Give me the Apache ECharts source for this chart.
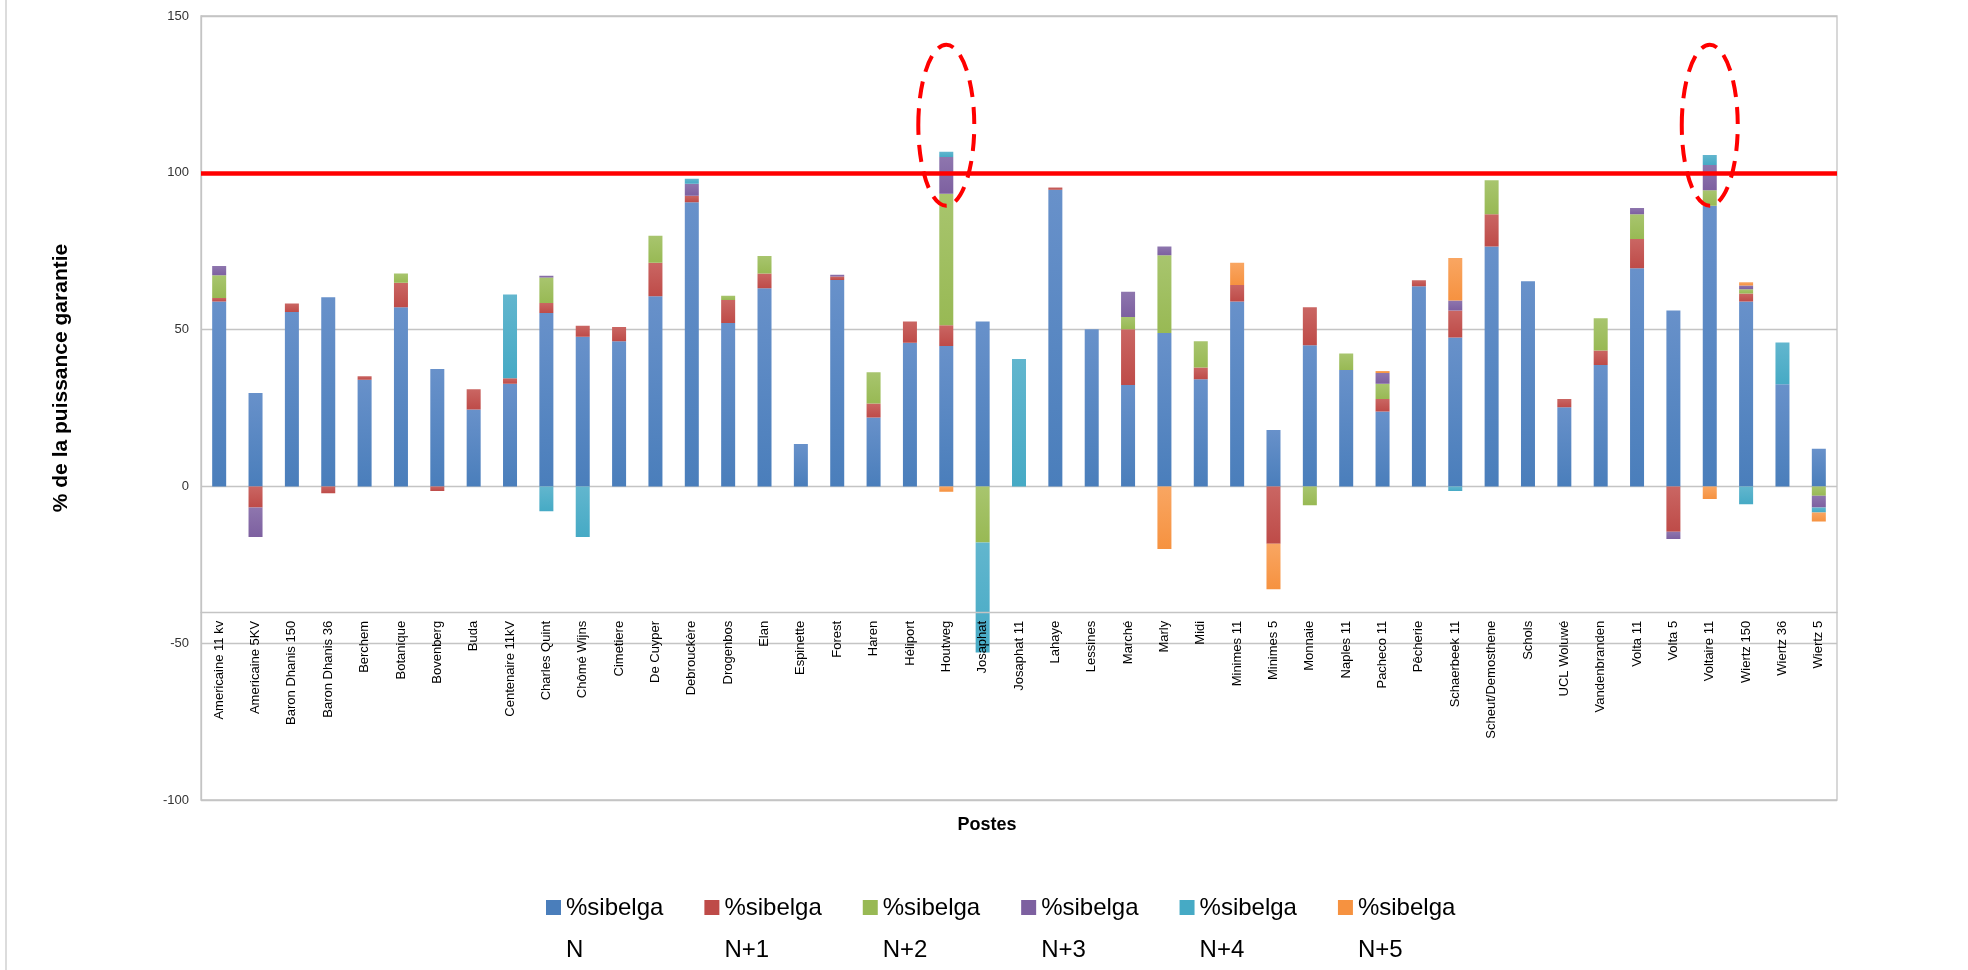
<!DOCTYPE html>
<html><head><meta charset="utf-8">
<script src="https://cdn.jsdelivr.net/npm/echarts@6/dist/echarts.min.js"></script>
<style>html,body{margin:0;padding:0;background:#fff}#c{width:1968px;height:970px}</style>
</head><body><div id="c"></div>
<script>
const postes = ['Americaine 11 kv','Americaine 5KV','Baron Dhanis 150','Baron Dhanis 36','Berchem','Botanique','Bovenberg','Buda','Centenaire 11kV','Charles Quint','Chômé Wijns','Cimetiere','De Cuyper','Debrouckère','Drogenbos','Elan','Espinette','Forest','Haren','Héliport','Houtweg','Josaphat','Josaphat 11','Lahaye','Lessines','Marché','Marly','Midi','Minimes 11','Minimes 5','Monnaie','Naples 11','Pacheco 11','Pêcherie','Schaerbeek 11','Scheut/Demosthene','Schols','UCL Woluwé','Vandenbranden','Volta 11','Volta 5','Voltaire 11','Wiertz 150','Wiertz 36','Wiertz 5'];

const sibelgaN  = [59.0,29.8,55.6,60.3,34.0,57.1,37.4,24.5,32.7,55.3,47.7,46.3,60.6,90.6,52.1,63.2,13.5,65.8,22.0,45.8,44.8,52.6,0,94.6,50.1,32.3,48.9,34.2,59.0,18.0,45.0,37.1,23.9,63.8,47.5,76.5,65.4,25.2,38.7,69.6,56.1,89.5,59.0,32.6,12.0];
const sibelgaN1 = [1.1,-6.7,2.7,-2.2,1.1,7.8,-1.5,6.5,1.8,3.2,3.5,4.5,10.7,2.1,7.3,4.7,0,1.1,4.4,6.8,6.6,0,0,0.7,0,17.8,0,3.7,5.2,-18.3,12.1,0,4.0,1.9,8.6,10.3,0,2.7,4.6,9.3,-14.5,0,2.5,0,0];
const sibelgaN2 = [7.2,0,0,0,0,3.0,0,0,0,8.1,0,0,8.6,0,1.4,5.6,0,0,10.0,0,41.9,-17.9,0,0,0,3.9,24.8,8.4,0,0,-6.0,5.3,4.8,0,0,10.8,0,0,10.3,7.9,0,4.9,1.4,0,-3.0];
const sibelgaN3 = [3.0,-9.4,0,0,0,0,0,0,0,0.6,0,0,0,3.8,0,0,0,0.6,0,0,11.7,0,0,0,0,8.1,2.8,0,0,0,0,0,3.5,0,3.2,0,0,0,0,2.0,-2.3,8.1,1.2,0,-3.7];
const sibelgaN4 = [0,0,0,0,0,0,0,0,26.7,-7.9,-16.1,0,0,1.6,0,0,0,0,0,0,1.7,-35.1,40.6,0,0,0,0,0,0,0,0,0,0,0,-1.5,0,0,0,0,0,0,3.2,-5.7,13.3,-1.6];
const sibelgaN5 = [0,0,0,0,0,0,0,0,0,0,0,0,0,0,0,0,0,0,0,0,-1.7,0,0,0,0,0,-20.0,0,7.1,-14.5,0,0,0.6,0,13.5,0,0,0,0,0,0,-4.0,1.0,0,-2.9];

const seriesNames = ['%sibelga N','%sibelga N+1','%sibelga N+2','%sibelga N+3','%sibelga N+4','%sibelga N+5'];
const yTicks = {min:-100, max:150, interval:50};
const limitValue = 100;
const axisCross = -40;
const highlighted = ['Houtweg','Voltaire 11'];
const highlightRange = [89.5, 140.8];

const seriesData = [sibelgaN, sibelgaN1, sibelgaN2, sibelgaN3, sibelgaN4, sibelgaN5];
const palette = [
  ['#6891CA','#4A7EBB'],
  ['#CA6663','#BE4B48'],
  ['#A8C56E','#98B954'],
  ['#8E76AE','#7D60A0'],
  ['#62B6CE','#46AAC5'],
  ['#F9A662','#F69240']
];

const chart = echarts.init(document.getElementById('c'), null, {renderer:'canvas'});

const series = seriesData.map((d, i) => {
  const s = {
    name: seriesNames[i],
    type: 'bar',
    stack: 'total',
    data: d,
    barWidth: 14,
    itemStyle: {
      color: new echarts.graphic.LinearGradient(0,0,0,1,[{offset:0,color:palette[i][0]},{offset:1,color:palette[i][1]}]),
      borderWidth: 0
    },
    emphasis: {disabled: true},
    animation: false
  };
  if (i === 0) {
    s.markLine = {
      silent: true,
      symbol: ['none','none'],
      label: {show:false},
      lineStyle: {color:'#FF0000', width:4.5, type:'solid'},
      data: [{yAxis: limitValue}],
      animation: false,
      z: 10
    };
  }
  return s;
});

const gridTop = 16, gridBottomPx = 800, gridLeft = 201, gridRight = 1968 - 1837;
const plotH = gridBottomPx - gridTop;
const crossOffset = -((axisCross - yTicks.min) / (yTicks.max - yTicks.min)) * plotH;

const option = {
  backgroundColor: '#fff',
  animation: false,
  grid: {left: gridLeft, right: gridRight, top: gridTop, bottom: 970 - gridBottomPx, show: true, borderColor: '#c4c4c4', borderWidth: 1.3},
  legend: {
    left: 546, top: 887, padding: 0,
    itemWidth: 15, itemHeight: 58, itemGap: 41,
    icon: 'path://M0,0H10V10H0ZM0,38.7L10,38.7',
    itemStyle: {borderWidth: 0},
    selectedMode: false,
    formatter: n => n.replace(' ', '\n'),
    textStyle: {fontFamily: 'Liberation Sans', fontSize: 24, lineHeight: 42, color: '#000'},
    data: seriesNames.map((n, i) => ({name: n, itemStyle: {color: palette[i][1]}}))
  },
  xAxis: {
    type: 'category',
    data: postes,
    offset: crossOffset,
    z: 5,
    name: 'Postes',
    nameLocation: 'middle',
    nameGap: 204,
    nameTextStyle: {fontFamily: 'Liberation Sans', fontWeight: 'bold', fontSize: 18, color: '#000', padding: [0, 64, 0, 0]},
    axisLine: {show: true, onZero: false, lineStyle: {color: '#c4c4c4', width: 1.3}},
    axisTick: {show: false},
    axisLabel: {interval: 0, rotate: 90, margin: 9, fontFamily: 'Liberation Sans', fontSize: 13, color: '#000', hideOverlap: false},
    splitLine: {show: false}
  },
  yAxis: {
    type: 'value',
    min: yTicks.min, max: yTicks.max, interval: yTicks.interval,
    name: '% de la puissance garantie',
    nameLocation: 'middle',
    nameGap: 129,
    nameTextStyle: {fontFamily: 'Liberation Sans', fontWeight: 'bold', fontSize: 21, color: '#000', padding: [0, 0, 0, 60]},
    axisLine: {show: true, lineStyle: {color: '#c4c4c4', width: 1.3}},
    axisTick: {show: false},
    axisLabel: {margin: 12, fontFamily: 'Liberation Sans', fontSize: 13, color: '#333'},
    splitLine: {show: true, lineStyle: {color: '#c4c4c4', width: 1.3}}
  },
  series: series
};

chart.setOption(option);

const graphics = [{
  type: 'line', silent: true, z: 0,
  shape: {x1: 6, y1: 0, x2: 6, y2: 970},
  style: {stroke: '#d0d0d0', lineWidth: 1.5}
}];
highlighted.forEach(name => {
  const idx = postes.indexOf(name);
  const top = chart.convertToPixel({xAxisIndex: 0, yAxisIndex: 0}, [idx, highlightRange[1]]);
  const bot = chart.convertToPixel({xAxisIndex: 0, yAxisIndex: 0}, [idx, highlightRange[0]]);
  const next = chart.convertToPixel({xAxisIndex: 0, yAxisIndex: 0}, [idx + 1, highlightRange[0]]);
  const step = next[0] - top[0];
  graphics.push({
    type: 'ellipse', silent: true, z: 100,
    shape: {cx: top[0], cy: (top[1] + bot[1]) / 2, rx: step * 0.77, ry: (bot[1] - top[1]) / 2},
    style: {fill: 'none', stroke: '#FF0000', lineWidth: 4, lineDash: [17, 10]}
  });
});
chart.setOption({graphic: graphics});
</script>
</body></html>
